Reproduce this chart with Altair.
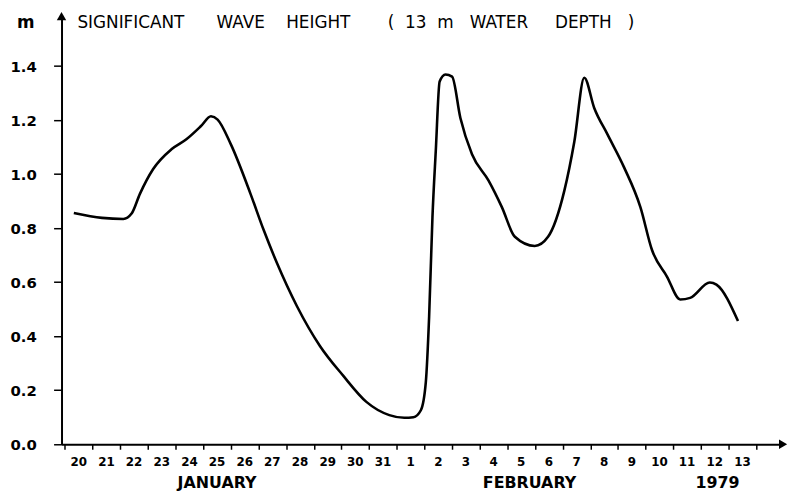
import altair as alt
import pandas as pd

# Significant wave height (m) vs time (days since 20 January 1979, 00:00)
days = [0.32, 1.34, 2.11, 2.41, 2.71, 3.19, 3.85, 4.39, 4.92, 5.28, 5.52, 6.00,
        6.71, 7.19, 7.67, 8.39, 9.22, 10.06, 10.90, 11.73, 12.27, 12.60, 12.87,
        13.05, 13.17, 13.29, 13.41, 13.55, 13.76, 14.00, 14.30, 14.72, 15.32,
        15.80, 16.27, 16.99, 17.47, 18.06, 18.42, 18.78, 19.14, 19.62, 20.22,
        20.81, 21.23, 21.77, 22.25, 22.61, 23.32, 23.56, 24.34]
heights = [0.856, 0.838, 0.834, 0.854, 0.927, 1.019, 1.092, 1.129, 1.178, 1.214,
           1.202, 1.110, 0.927, 0.792, 0.670, 0.511, 0.364, 0.254, 0.157, 0.108,
           0.098, 0.100, 0.126, 0.230, 0.474, 0.841, 1.086, 1.343, 1.369, 1.361,
           1.208, 1.074, 0.976, 0.878, 0.768, 0.734, 0.768, 0.939, 1.120, 1.357,
           1.245, 1.147, 1.025, 0.878, 0.719, 0.621, 0.536, 0.542, 0.599, 0.591,
           0.456]

day_labels = ["20", "21", "22", "23", "24", "25", "26", "27", "28", "29", "30", "31",
              "1", "2", "3", "4", "5", "6", "7", "8", "9", "10", "11", "12", "13"]
day_label_pos = [0.5, 1.5, 2.5, 3.5, 4.5, 5.5, 6.5, 7.5, 8.5, 9.5, 10.5, 11.5,
                 12.5, 13.5, 14.5, 15.5, 16.5, 17.5, 18.5, 19.5, 20.5, 21.5, 22.5, 23.5, 24.5]
day_ticks = list(range(26))

month_labels = ["JANUARY", "FEBRUARY", "1979"]
month_pos = [5.5, 16.8, 23.6]

y_ticks = [0.0, 0.2, 0.4, 0.6, 0.8, 1.0, 1.2, 1.4]

NB = "\u00a0"
title_text = ("SIGNIFICANT" + NB * 6 + "WAVE" + NB * 4 + "HEIGHT" + NB * 7 + "(" + NB * 2 +
              "13" + NB * 2 + "m" + NB * 3 + "WATER" + NB * 5 + "DEPTH" + NB * 3 + ")")

X_MIN, X_MAX = -0.125, 25.97
Y_MIN, Y_MAX = 0.0, 1.585
FONT = "DejaVu Sans"

xs = alt.Scale(domain=[X_MIN, X_MAX], nice=False, zero=False)
ys = alt.Scale(domain=[Y_MIN, Y_MAX], nice=False, zero=False)

x_axis = alt.Axis(
    values=day_ticks, labels=False, tickSize=5, tickWidth=1.5, tickColor="black",
    domainColor="black", domainWidth=2, grid=False, title=None)
y_axis = alt.Axis(
    values=y_ticks, format=".1f", tickSize=8, tickWidth=1.5, tickColor="black",
    domainColor="black", domainWidth=2, grid=False, title=None,
    labelFont=FONT, labelFontSize=15, labelFontWeight="bold", labelColor="black",
    labelAlign="left", labelPadding=44, labelBaseline="middle")

df = pd.DataFrame({"day": days, "h": heights})
lab_df = pd.DataFrame({"day": day_label_pos, "lab": day_labels})
mon_df = pd.DataFrame({"day": month_pos, "lab": month_labels})

line = alt.Chart(df).mark_line(
    color="black", strokeWidth=2.6, interpolate="monotone"
).encode(
    x=alt.X("day:Q", scale=xs, axis=x_axis),
    y=alt.Y("h:Q", scale=ys, axis=y_axis),
)

day_text = alt.Chart(lab_df).mark_text(
    font=FONT, fontSize=12, fontWeight="bold", color="black", baseline="middle", align="center"
).encode(
    x=alt.X("day:Q", scale=xs, axis=x_axis),
    y=alt.value(450),
    text="lab:N",
)

month_text = alt.Chart(mon_df).mark_text(
    font=FONT, fontSize=16, fontWeight="bold", color="black", baseline="middle", align="center"
).encode(
    x=alt.X("day:Q", scale=xs, axis=x_axis),
    y=alt.value(471),
    text="lab:N",
)

arrow_x = alt.Chart(pd.DataFrame({"day": [X_MAX], "h": [Y_MIN]})).mark_point(
    shape="triangle-right", filled=True, size=90, color="black", opacity=1
).encode(x=alt.X("day:Q", scale=xs, axis=x_axis), y=alt.Y("h:Q", scale=ys, axis=y_axis))

arrow_y = alt.Chart(pd.DataFrame({"day": [X_MIN], "h": [Y_MAX]})).mark_point(
    shape="triangle-up", filled=True, size=90, color="black", opacity=1
).encode(x=alt.X("day:Q", scale=xs, axis=x_axis), y=alt.Y("h:Q", scale=ys, axis=y_axis))

title = alt.Chart(pd.DataFrame({"t": [title_text]})).mark_text(
    font=FONT, fontSize=17, color="black", align="left", baseline="middle"
).encode(x=alt.value(16), y=alt.value(7), text="t:N")

unit = alt.Chart(pd.DataFrame({"t": ["m"]})).mark_text(
    font=FONT, fontSize=17, fontWeight="bold", color="black", align="center", baseline="middle"
).encode(x=alt.value(-36), y=alt.value(7), text="t:N")

chart = alt.layer(line, day_text, month_text, arrow_x, arrow_y, title, unit).properties(
    width=728, height=432, autosize="none",
    padding={"left": 54, "top": 6, "right": 8, "bottom": 49},
    background="white",
).configure_view(stroke=None)

chart.save("out.html", embed_options={"renderer": "svg", "actions": False})
